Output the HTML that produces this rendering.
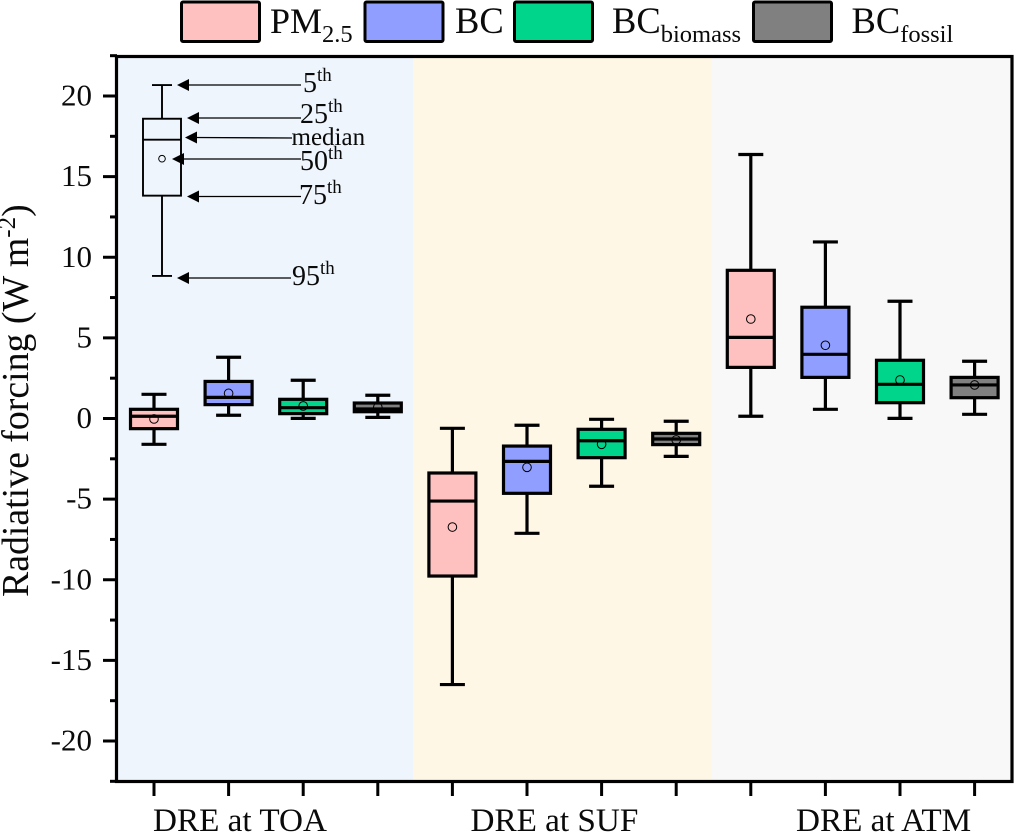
<!DOCTYPE html>
<html lang="en">
<head>
<meta charset="utf-8">
<title>Radiative forcing box plot</title>
<style>
html,body{margin:0;padding:0;background:#fff;}
svg{display:block;font-family:"Liberation Serif",serif;fill:#0a0a0a;}
</style>
</head>
<body>
<svg id="chart" xmlns="http://www.w3.org/2000/svg" width="1018" height="833" viewBox="0 0 1018 833">
  <g id="bands"></g>
  <g id="marks"></g>
  <g id="key"></g>
  <g stroke="#000" stroke-width="1.3" fill="#000">
    <g><line x1="186" y1="85" x2="301" y2="85"/><polygon points="177,85 189,79 189,91" stroke="none"/></g>
    <g><line x1="196" y1="118" x2="301" y2="118"/><polygon points="187,118 199,112 199,124" stroke="none"/></g>
    <g><line x1="194" y1="137.5" x2="292" y2="138"/><polygon points="185,137.5 197,131.5 197,143.5" stroke="none"/></g>
    <g><line x1="181" y1="159" x2="301" y2="159"/><polygon points="172,159 184,153 184,165" stroke="none"/></g>
    <g><line x1="196" y1="196.5" x2="301" y2="196.5"/><polygon points="187,196.5 199,190.5 199,202.5" stroke="none"/></g>
    <g><line x1="186" y1="278" x2="291" y2="278"/><polygon points="177,278 189,272 189,284" stroke="none"/></g>
  </g>
  <g font-size="28">
    <text x="303" y="92">5<tspan font-size="19" dy="-11">th</tspan></text>
    <text x="300" y="123">25<tspan font-size="19" dy="-11">th</tspan></text>
    <text x="291.500" y="145" font-size="25">median</text>
    <text x="300" y="170">50<tspan font-size="19" dy="-11">th</tspan></text>
    <text x="299" y="204">75<tspan font-size="19" dy="-11">th</tspan></text>
    <text x="292" y="285">95<tspan font-size="19" dy="-11">th</tspan></text>
  </g>
  <g id="axes"></g>
  <text transform="translate(28,597) rotate(-90)" font-size="37.8">Radiative forcing (W m<tspan font-size="25" dy="-13">-2</tspan><tspan dy="13">)</tspan></text>
  <g>
    <g>
      <rect x="181.500" y="2" width="78" height="39.500" rx="1.500" fill="#FFC0C0" stroke="#000" stroke-width="3"/>
      <text x="270" y="33" font-size="36">PM<tspan font-size="24.500" dy="9">2.5</tspan></text>
    </g>
    <g>
      <rect x="365" y="2" width="78" height="39.500" rx="1.500" fill="#8F9EFF" stroke="#000" stroke-width="3"/>
      <text x="455" y="33" font-size="36.500">BC</text>
    </g>
    <g>
      <rect x="514.500" y="2" width="78" height="39.500" rx="1.500" fill="#00D58C" stroke="#000" stroke-width="3"/>
      <text x="612" y="33" font-size="36.500">BC<tspan font-size="24.500" dy="9">biomass</tspan></text>
    </g>
    <g>
      <rect x="753.500" y="2" width="78" height="39.500" rx="1.500" fill="#808080" stroke="#000" stroke-width="3"/>
      <text x="851.500" y="33" font-size="36.500">BC<tspan font-size="24.500" dy="9">fossil</tspan></text>
    </g>
  </g>
</svg>
<script>
var groupLabels = ["DRE at TOA", "DRE at SUF", "DRE at ATM"];
var seriesNames = ["pm25", "bc", "bc-biomass", "bc-fossil"];
var whiskerHigh = [1.5, 3.8, 2.37, 1.44, -0.61, -0.42, -0.05, -0.17, 16.37, 10.95, 7.27, 3.55];
var boxHigh = [0.57, 2.3, 1.19, 0.96, -3.38, -1.71, -0.67, -0.92, 9.19, 6.9, 3.61, 2.55];
var medians = [0.14, 1.31, 0.67, 0.59, -5.12, -2.66, -1.38, -1.27, 5.03, 3.98, 2.12, 2.08];
var means = [-0.03, 1.56, 0.78, 0.7, -6.73, -3.03, -1.6, -1.33, 6.17, 4.54, 2.39, 2.08];
var boxLow = [-0.63, 0.86, 0.3, 0.42, -9.77, -4.64, -2.43, -1.62, 3.17, 2.55, 0.98, 1.29];
var whiskerLow = [-1.6, 0.2, 0.01, 0.07, -16.5, -7.12, -4.2, -2.35, 0.14, 0.57, 0.01, 0.26];
var keyStats = { whiskerHigh: 20.68, boxHigh: 18.59, median: 17.29, mean: 16.11, boxLow: 13.82, whiskerLow: 8.84 };
var yMajorTicks = [20, 15, 10, 5, 0, -5, -10, -15, -20];
var yMinorTicks = [22.5, 17.5, 12.5, 7.5, 2.5, -2.5, -7.5, -12.5, -17.5, -22.5];

var NS = "http://www.w3.org/2000/svg";
var seriesColors = ["#FFC0C0", "#8F9EFF", "#00D58C", "#808080"];
var bandColors = ["#EEF5FC", "#FFF7E6", "#F8F8F8"];

function xScale(position) { return 154 + (position - 1) * 74.6; }
function yScale(value) { return 418.5 - value * 16.125; }

function make(tag, parent, attrs) {
  var el = document.createElementNS(NS, tag);
  for (var k in attrs) { el.setAttribute(k, attrs[k]); }
  parent.appendChild(el);
  return el;
}

function drawBox(parent, cx, halfBox, halfCap, stats, fill, strokeWidth, meanR) {
  var stem = make("path", parent, {
    d: "M" + cx + " " + yScale(stats.whiskerHigh) + "V" + yScale(stats.whiskerLow),
    stroke: "#000", "stroke-width": strokeWidth, fill: "none"
  });
  
  
  var capTop = make("line", parent, {
    x1: cx - halfCap, x2: cx + halfCap, y1: yScale(stats.whiskerHigh), y2: yScale(stats.whiskerHigh),
    stroke: "#000", "stroke-width": strokeWidth
  });
  
  
  var capBottom = make("line", parent, {
    x1: cx - halfCap, x2: cx + halfCap, y1: yScale(stats.whiskerLow), y2: yScale(stats.whiskerLow),
    stroke: "#000", "stroke-width": strokeWidth
  });
  
  
  var box = make("rect", parent, {
    x: cx - halfBox, width: halfBox * 2,
    y: yScale(stats.boxHigh), height: yScale(stats.boxLow) - yScale(stats.boxHigh),
    fill: fill, stroke: "#000", "stroke-width": strokeWidth
  });
  
  
  var med = make("line", parent, {
    x1: cx - halfBox, x2: cx + halfBox, y1: yScale(stats.median), y2: yScale(stats.median),
    stroke: "#000", "stroke-width": strokeWidth
  });
  
  
  var mean = make("circle", parent, {
    cx: cx, cy: yScale(stats.mean), r: meanR, fill: "none", stroke: "#000", "stroke-width": 1
  });
  
  
}

var bandsLayer = document.getElementById("bands");
var bandEdges = [117, 413, 712, 1012];
bandColors.forEach(function (color, i) {
  var band = make("rect", bandsLayer, {
    x: bandEdges[i], y: 57, width: bandEdges[i + 1] - bandEdges[i], height: 724, fill: color
  });
  
  
});

var marksLayer = document.getElementById("marks");
medians.forEach(function (m, i) {
  var g = make("g", marksLayer, {});
  
  
  drawBox(g, xScale(i + 1), 23.5, 12.5, {
    whiskerHigh: whiskerHigh[i], boxHigh: boxHigh[i], median: m, mean: means[i],
    boxLow: boxLow[i], whiskerLow: whiskerLow[i]
  }, seriesColors[i % 4], 3.2, 4.3);
});

var keyLayer = document.getElementById("key");
drawBox(keyLayer, 162, 19, 10, keyStats, "#EEF5FC", 1.9, 3.3);

var axesLayer = document.getElementById("axes");
var frame = make("rect", axesLayer, {
  x: 116.5, y: 56.5, width: 895.5, height: 725, fill: "none", stroke: "#000", "stroke-width": 3.2
});



yMajorTicks.forEach(function (v) {
  var t = make("line", axesLayer, {
    x1: 103, x2: 117, y1: yScale(v), y2: yScale(v), stroke: "#000", "stroke-width": 3
  });
  
  
  var label = make("text", axesLayer, {
    x: 92, y: yScale(v) + 9.5, "text-anchor": "end", "font-size": 31
  });
  
  
  label.textContent = String(v);
});

yMinorTicks.forEach(function (v) {
  var t = make("line", axesLayer, {
    x1: 110, x2: 117, y1: yScale(v), y2: yScale(v), stroke: "#000", "stroke-width": 3
  });
  
  
});

medians.forEach(function (m, i) {
  var t = make("line", axesLayer, {
    x1: xScale(i + 1), x2: xScale(i + 1), y1: 781, y2: 796, stroke: "#000", "stroke-width": 3
  });
  
  
});

var groupLabelStart = [153, 470.5, 796];
groupLabels.forEach(function (name, i) {
  var label = make("text", axesLayer, { x: groupLabelStart[i], y: 831, "font-size": 33.2 });
  
  
  label.textContent = name;
});
</script>
</body>
</html>
